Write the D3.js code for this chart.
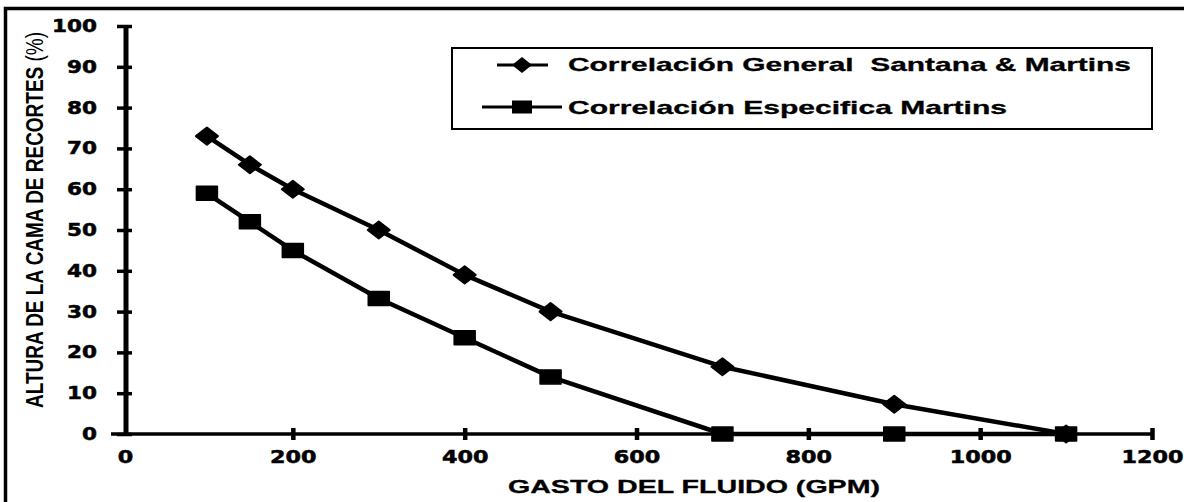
<!DOCTYPE html>
<html>
<head>
<meta charset="utf-8">
<script src="https://cdn.jsdelivr.net/npm/d3@7"></script>
<style>
  html, body { margin: 0; padding: 0; background: #fff; }
  svg { display: block; }
</style>
</head>
<body>
<svg id="chart" width="1184" height="502"></svg>
<script>
// Flow rate (GPM) against cuttings bed height (%)
const gpm = [100, 150, 200, 300, 400, 500, 700, 900, 1100];
const santanaMartins = [73, 66, 60, 50, 39, 30, 16.5, 7.3, 0];
const martinsEspecifica = [59, 52, 45, 33.2, 23.6, 14, 0, 0, 0];
const seriesNames = ["Correlación General  Santana & Martins", "Correlación Especifica Martins"];
const xTicks = [0, 200, 400, 600, 800, 1000, 1200];
const yTicks = [0, 10, 20, 30, 40, 50, 60, 70, 80, 90, 100];
const xTitle = "GASTO DEL FLUIDO (GPM)";
const yTitleMain = "ALTURA DE LA CAMA DE RECORTES ";
const yTitleUnit = "(%)";

const svg = d3.select("#chart");
const ink = "#000";
const fmt = d3.format("d");

const x = d3.scaleLinear().domain([0, 1200]).range([121, 1152]);
const y = d3.scaleLinear().domain([0, 100]).range([434, 26]);
const yAxisX = x(0) + 5;

// outer frame (top and left edges)
svg.append("path")
  .attr("d", "M5.5,502 V8.5 H1184")
  .attr("fill", "none").attr("stroke", ink).attr("stroke-width", 3.5);

// heavy tick-label style shared by both axes
function tickLabelStyle(sel, perChar) {
  sel.attr("fill", ink)
    .attr("stroke", ink).attr("stroke-width", 0.5)
    .style("font-family", "'DejaVu Sans', sans-serif")
    .style("font-weight", "bold")
    .style("font-size", "17px")
    .attr("textLength", d => fmt(d).length * perChar)
    .attr("lengthAdjust", "spacingAndGlyphs");
}

// ---- X axis ----
const gx = svg.append("g").attr("transform", `translate(0,${y(0)})`);
gx.call(d3.axisBottom(x).tickValues(xTicks).tickFormat(fmt)
  .tickSize(6).tickSizeOuter(0).tickPadding(11));
gx.select(".domain").remove();
gx.append("line")
  .attr("x1", x(0) - 10).attr("x2", x(1200))
  .attr("stroke", ink).attr("stroke-width", 3.5);
gx.selectAll(".tick line")
  .attr("y1", -6).attr("stroke", ink).attr("stroke-width", 4.5)
  .attr("opacity", d => d === 0 ? 0 : 1);
gx.selectAll(".tick text")
  .call(tickLabelStyle, 15.5)
  .attr("x", d => d === 0 ? 4 : 0);

// ---- Y axis ----
const gy = svg.append("g").attr("transform", `translate(${yAxisX},0)`);
gy.call(d3.axisLeft(y).tickValues(yTicks).tickFormat(fmt)
  .tickSize(9).tickSizeOuter(0).tickPadding(20));
gy.select(".domain").remove();
gy.append("line")
  .attr("y1", y(0)).attr("y2", y(100))
  .attr("stroke", ink).attr("stroke-width", 5);
gy.selectAll(".tick line")
  .attr("x1", 6).attr("stroke", ink).attr("stroke-width", 3.5);
gy.selectAll(".tick text").call(tickLabelStyle, 15);

// ---- axis titles ----
svg.append("text")
  .attr("x", 694).attr("y", 493)
  .attr("text-anchor", "middle")
  .attr("textLength", 372).attr("lengthAdjust", "spacingAndGlyphs")
  .style("font-family", "'Liberation Sans', Arial, sans-serif")
  .style("font-weight", "bold").style("font-size", "18px")
  .attr("fill", ink).attr("stroke", ink).attr("stroke-width", 0.3)
  .text(xTitle);

const yTitle = svg.append("text")
  .attr("transform", "translate(34,220) rotate(-90) scale(1,1.55)")
  .attr("text-anchor", "middle")
  .attr("dy", "0.36em")
  .attr("textLength", 376).attr("lengthAdjust", "spacingAndGlyphs")
  .style("font-family", "'Liberation Sans', Arial, sans-serif")
  .style("font-size", "16px")
  .style("white-space", "pre")
  .attr("fill", ink);
yTitle.append("tspan").style("font-weight", "bold").text(yTitleMain);
yTitle.append("tspan").style("font-weight", "normal").text(yTitleUnit);

// ---- series ----
const line = d3.line().x(d => x(d[0])).y(d => y(d[1]));
const diamond = "M0,-8.5 L11,0 L0,8.5 L-11,0 Z";

function drawSeries(values, marker) {
  const pts = gpm.map((g, i) => [g, values[i]]);
  svg.append("path")
    .datum(pts)
    .attr("d", line)
    .attr("fill", "none").attr("stroke", ink)
    .attr("stroke-width", 4.5).attr("stroke-linejoin", "round");
  const g = svg.append("g");
  if (marker === "diamond") {
    g.selectAll("path").data(pts).join("path")
      .attr("d", diamond)
      .attr("transform", d => `translate(${x(d[0])},${y(d[1])})`)
      .attr("fill", ink).attr("stroke", ink).attr("stroke-width", 2)
      .attr("stroke-linejoin", "round");
  } else {
    g.selectAll("rect").data(pts).join("rect")
      .attr("x", d => x(d[0]) - 10.5).attr("y", d => y(d[1]) - 7)
      .attr("width", 21).attr("height", 14)
      .attr("fill", ink).attr("stroke", ink).attr("stroke-width", 1.5)
      .attr("stroke-linejoin", "round");
  }
}
drawSeries(santanaMartins, "diamond");
drawSeries(martinsEspecifica, "square");

// ---- legend ----
const legend = svg.append("g");
legend.append("rect")
  .attr("x", 452).attr("y", 48).attr("width", 700).attr("height", 81)
  .attr("fill", "#fff").attr("stroke", ink).attr("stroke-width", 2);

// entry 1: diamond
legend.append("line")
  .attr("x1", 497).attr("x2", 548).attr("y1", 65).attr("y2", 65)
  .attr("stroke", ink).attr("stroke-width", 3);
legend.append("path")
  .attr("d", "M0,-8 L10,0 L0,8 L-10,0 Z")
  .attr("transform", "translate(522,65)")
  .attr("fill", ink);
// entry 2: square
legend.append("line")
  .attr("x1", 482).attr("x2", 562).attr("y1", 107).attr("y2", 107)
  .attr("stroke", ink).attr("stroke-width", 3);
legend.append("rect")
  .attr("x", 512).attr("y", 100.5).attr("width", 20).attr("height", 13)
  .attr("fill", ink);

const legendWidths = [563, 439];
const legendBaselines = [70.5, 114];
seriesNames.forEach((name, i) => {
  legend.append("text")
    .attr("x", 568).attr("y", legendBaselines[i])
    .attr("textLength", legendWidths[i]).attr("lengthAdjust", "spacingAndGlyphs")
    .style("font-family", "'Liberation Sans', Arial, sans-serif")
    .style("font-weight", "bold").style("font-size", "18.5px")
    .style("white-space", "pre")
    .attr("fill", ink).attr("stroke", ink).attr("stroke-width", 0.3)
    .text(name);
});
</script>
</body>
</html>
